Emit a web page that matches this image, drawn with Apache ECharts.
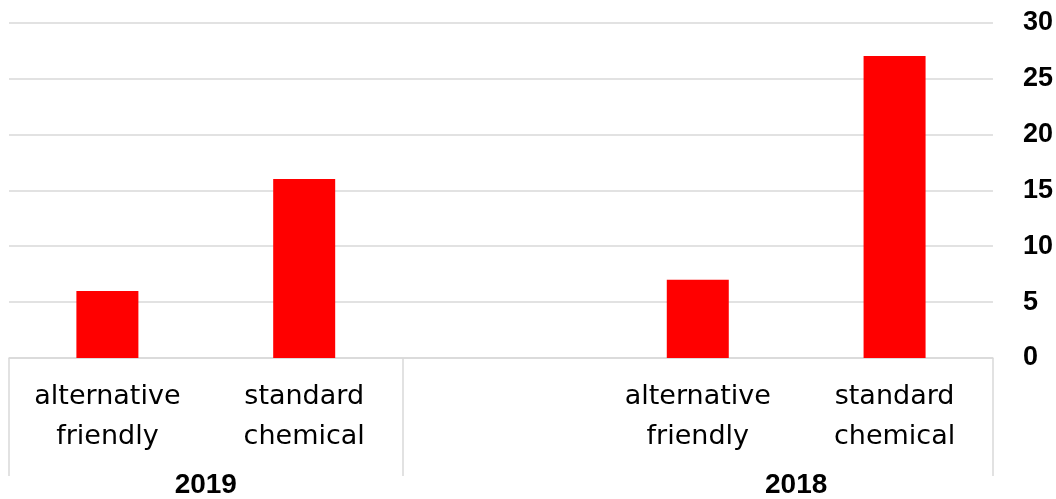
<!DOCTYPE html>
<html>
<head>
<meta charset="utf-8">
<script src="https://cdn.jsdelivr.net/npm/echarts@6/dist/echarts.min.js"></script>
<style>
  html, body { margin: 0; padding: 0; background: #ffffff; }
  #chart { width: 1056px; height: 499px; }
</style>
</head>
<body>
<div id="chart"></div>
<script>
// Product categories, one slot per bar; the empty slot separates the two years
const categories = ['alternative\nfriendly', 'standard\nchemical', '', 'alternative\nfriendly', 'standard\nchemical'];
// Counts per category
const counts = [6, 16, null, 7, 27];
// Year group labels, placed on a 0..5 slot scale under the categories
const yearPositions = [1, 4];
const yearLabels = ['2019', '2018'];
// Group boundaries on the same slot scale
const groupBounds = [0, 2, 5];
// Value axis ticks
const yTicks = [0, 5, 10, 15, 20, 25, 30];

const gridColor = '#d9d9d9';

const chart = echarts.init(document.getElementById('chart'), null, { renderer: 'canvas' });

chart.setOption({
  animation: false,
  backgroundColor: '#ffffff',
  grid: { left: 9, right: 62, top: 22.5, bottom: 140.5, containLabel: false },
  xAxis: [
    {
      type: 'category',
      data: categories,
      position: 'bottom',
      axisLine: { show: true, lineStyle: { color: gridColor, width: 1.5 } },
      axisTick: { show: false },
      axisLabel: {
        interval: 0,
        margin: 19,
        color: '#000000',
        fontFamily: 'DejaVu Sans',
        fontSize: 27,
        lineHeight: 40
      }
    },
    {
      type: 'value',
      position: 'bottom',
      min: 0,
      max: 5,
      splitLine: { show: false },
      axisLine: { show: false },
      axisTick: {
        show: true,
        inside: false,
        length: 118,
        customValues: groupBounds,
        lineStyle: { color: gridColor, width: 1.5 }
      },
      axisLabel: {
        show: true,
        customValues: yearPositions,
        margin: 113,
        color: '#000000',
        fontFamily: 'Liberation Sans',
        fontWeight: 'bold',
        fontSize: 28,
        lineHeight: 28,
        formatter: function (v) {
          const i = yearPositions.indexOf(v);
          return i >= 0 ? yearLabels[i] : '';
        }
      }
    }
  ],
  yAxis: {
    type: 'value',
    position: 'right',
    min: yTicks[0],
    max: yTicks[yTicks.length - 1],
    interval: 5,
    axisLine: { show: false },
    axisTick: { show: false },
    splitLine: { show: true, lineStyle: { color: gridColor, width: 1.5 } },
    axisLabel: {
      margin: 30,
      color: '#000000',
      fontFamily: 'Liberation Sans',
      fontWeight: 'bold',
      fontSize: 27
    }
  },
  series: [
    {
      type: 'bar',
      xAxisIndex: 0,
      data: counts,
      barWidth: 62,
      itemStyle: { color: '#ff0000' }
    }
  ]
});
</script>
</body>
</html>
